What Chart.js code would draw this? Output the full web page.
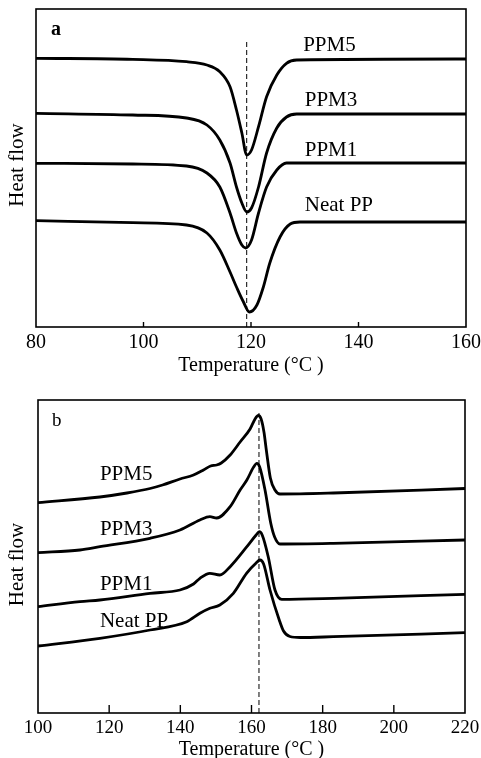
<!DOCTYPE html>
<html><head><meta charset="utf-8">
<script src="https://cdn.jsdelivr.net/npm/chart.js@4.4.1/dist/chart.umd.min.js"></script>
<style>
html,body{margin:0;padding:0;background:#fff;}
#wrap{position:relative;width:481px;height:758px;overflow:hidden;}
.c{position:absolute;left:0;width:481px;}
</style></head><body>
<div id="wrap">
<div class="c" style="top:0;height:380px"><canvas id="ca"></canvas></div>
<div class="c" style="top:380px;height:378px"><canvas id="cb"></canvas></div>
</div>
<script>
// ---------- Panel a (cooling, crystallization) ----------
const tickLabelsA = [80, 100, 120, 140, 160];
const seriesNamesA = ['PPM5', 'PPM3', 'PPM1', 'Neat PP'];
const tempA_PPM5 = [80, 98, 108, 111.8, 114.2, 116.1, 117.3, 118.3, 119.2, 120.1, 121.4, 122.9, 124.8, 126.6, 128.5, 160];
const flowA_PPM5 = [268.7, 267.7, 265.3, 262, 255.3, 240.3, 217, 194, 172, 177, 200.3, 230.3, 252, 263.7, 267, 268];
const tempA_PPM3 = [80, 98, 108, 111.8, 114.2, 116.1, 117.3, 118.3, 119.2, 120.1, 121.4, 122.9, 124.8, 126.6, 128.5, 160];
const flowA_PPM3 = [213.7, 212, 209, 202, 187, 164, 140, 124, 115, 119, 140, 174, 199, 210, 213, 213];
const tempA_PPM1 = [80, 98, 108, 111.8, 114.2, 116.1, 117.3, 118.3, 119.0, 120.1, 121.4, 122.9, 124.8, 126.6, 128.5, 160];
const flowA_PPM1 = [163.7, 163, 161, 154, 140, 114, 94, 82, 79, 87, 114, 140, 157, 164, 164, 164];
const tempA_Neat = [80, 98, 108, 111.8, 114.2, 116.1, 117.3, 118.6, 119.7, 121.1, 122.3, 123.5, 125.4, 127.3, 129.1, 160];
const flowA_Neat = [106.3, 104.3, 102, 94, 77, 55, 40, 25, 15, 22, 40, 64, 90, 103, 105, 105];
const refTempA = [119.2, 119.2];
const refFlowA = [0, 285];

// ---------- Panel b (heating, melting) ----------
const tickLabelsB = [100, 120, 140, 160, 180, 200, 220];
const seriesNamesB = ['PPM5', 'PPM3', 'PPM1', 'Neat PP'];
const tempB_PPM5 = [100, 117.4, 125, 131.5, 135, 139.9, 143.7, 146.5, 148.5, 150.2, 151.5, 154, 156.8, 159.6, 161.0, 161.9, 162.7, 163.5, 164.2, 165.3, 166.6, 168, 183, 220];
const flowB_PPM5 = [210.3, 216, 220, 224.5, 228, 234, 238, 243, 247, 248, 250, 258, 271, 284, 294, 297.5, 294, 281, 262, 235, 223, 219, 220, 224.5];
const tempB_PPM3 = [100, 111.8, 117.4, 131.5, 139.9, 145.5, 148.3, 150.2, 154, 156.8, 158.7, 160.6, 161.5, 162.3, 163.8, 165.4, 166.5, 168, 183, 220];
const flowB_PPM3 = [160.3, 163, 166.3, 174.7, 183, 193, 196.3, 195, 206.3, 223, 233, 246, 249.7, 246, 223, 190, 176, 169, 169.7, 173];
const tempB_PPM1 = [100, 111.8, 117.4, 131.5, 139.9, 143.7, 145.5, 148.3, 151.1, 154, 158.7, 161.3, 162.2, 163.0, 164.7, 166.6, 168.5, 183, 220];
const flowB_PPM1 = [106.3, 111.3, 113, 119.7, 123, 129, 134.7, 139.7, 138, 146.3, 166.3, 178, 181.3, 178, 156.3, 123, 113.7, 114.7, 118.7];
const tempB_Neat = [100, 117.4, 131.5, 141.8, 145.5, 148.3, 151.1, 154.9, 158.6, 161.3, 162.4, 163.4, 165.2, 167.8, 169, 170.8, 173.7, 183, 220];
const flowB_Neat = [67, 74.7, 83, 91.3, 99.7, 104.7, 108, 119.7, 139.7, 150, 153, 149, 123, 93, 82, 76.5, 75.5, 76.3, 80.3];
const refTempB = [162.1, 162.1];
const refFlowB = [0, 300];

const FONT = "'Liberation Serif', 'Times New Roman', serif";
const pts = (xs, ys) => xs.map((v, i) => ({x: v, y: ys[i]}));

function curve(label, xs, ys) {
  return {label, data: pts(xs, ys), borderColor: '#000', borderWidth: 2.8,
    pointRadius: 0, fill: false, cubicInterpolationMode: 'monotone'};
}
function refLine(xs, ys) {
  return {label: 'ref', data: pts(xs, ys), borderColor: '#000', borderWidth: 1,
    borderDash: [5, 3], pointRadius: 0, fill: false, tension: 0};
}

const decor = {
  id: 'decor',
  afterDatasetsDraw(chart, args, o) {
    const {ctx, chartArea: {left, right, top, bottom}, scales: {x, y}} = chart;
    ctx.save();
    ctx.strokeStyle = '#000';
    ctx.lineWidth = 1.6;
    ctx.strokeRect(left, top, right - left, bottom - top);
    ctx.lineWidth = 1.4;
    x.ticks.forEach(t => {
      if (t.value <= x.min || t.value >= x.max) return;
      const px = x.getPixelForValue(t.value);
      ctx.beginPath(); ctx.moveTo(px, bottom); ctx.lineTo(px, bottom - o.tickLen); ctx.stroke();
    });
    ctx.fillStyle = '#000';
    ctx.textBaseline = 'middle';
    ctx.textAlign = 'left';
    o.labels.forEach(l => {
      ctx.font = (l.bold ? 'bold ' : '') + l.size + 'px ' + FONT;
      ctx.fillText(l.text, x.getPixelForValue(l.x), y.getPixelForValue(l.y));
    });
    // y axis title
    ctx.save();
    ctx.translate(o.yTitleX, (top + bottom) / 2 + o.yTitleDy);
    ctx.rotate(-Math.PI / 2);
    ctx.textAlign = 'center';
    ctx.font = '21px ' + FONT;
    ctx.fillText('Heat flow', 0, 0);
    ctx.restore();
    ctx.restore();
  }
};

function makeChart(id, cfg) {
  return new Chart(document.getElementById(id), {
    type: 'line',
    data: {datasets: cfg.datasets},
    options: {
      responsive: true, maintainAspectRatio: false, animation: false,
      layout: {padding: cfg.padding},
      plugins: {legend: {display: false}, tooltip: {enabled: false},
        decor: {tickLen: cfg.tickLen, labels: cfg.labels, yTitleX: 17, yTitleDy: cfg.yTitleDy}},
      scales: {
        x: {type: 'linear', min: cfg.xMin, max: cfg.xMax,
          afterBuildTicks: s => { s.ticks = cfg.ticks.map(v => ({value: v})); },
          ticks: {font: {family: FONT, size: cfg.tickSize}, color: '#000', padding: cfg.tickPad, maxRotation: 0},
          grid: {display: false}, border: {display: false},
          title: {display: true, text: 'Temperature (°C )', color: '#000',
            font: {family: FONT, size: 20, lineHeight: cfg.titleLH}, padding: {top: 0, bottom: cfg.titlePad}},
          afterFit: s => { s.height = cfg.xHeight; }},
        y: {min: 0, max: cfg.yMax, ticks: {display: false},
          grid: {display: false}, border: {display: false},
          afterFit: s => { s.width = cfg.yWidth; }}
      }
    },
    plugins: [decor]
  });
}

makeChart('ca', {
  datasets: [curve(seriesNamesA[0], tempA_PPM5, flowA_PPM5), curve(seriesNamesA[1], tempA_PPM3, flowA_PPM3),
    curve(seriesNamesA[2], tempA_PPM1, flowA_PPM1), curve(seriesNamesA[3], tempA_Neat, flowA_Neat), refLine(refTempA, refFlowA)],
  padding: {top: 9, right: 15, left: 0, bottom: 0},
  xMin: 80, xMax: 160, ticks: tickLabelsA, yMax: 318, yWidth: 36, xHeight: 53,
  tickSize: 20, tickPad: -4, titlePad: 4, titleLH: 1, tickLen: 5, yTitleDy: -3,
  labels: [
    {text: 'a', x: 82.8, y: 297, size: 20, bold: true},
    {text: seriesNamesA[0], x: 129.7, y: 282, size: 21},
    {text: seriesNamesA[1], x: 130, y: 227, size: 21},
    {text: seriesNamesA[2], x: 130, y: 177, size: 21},
    {text: seriesNamesA[3], x: 130, y: 122, size: 21}
  ]
});

makeChart('cb', {
  datasets: [curve(seriesNamesB[0], tempB_PPM5, flowB_PPM5), curve(seriesNamesB[1], tempB_PPM3, flowB_PPM3),
    curve(seriesNamesB[2], tempB_PPM1, flowB_PPM1), curve(seriesNamesB[3], tempB_Neat, flowB_Neat), refLine(refTempB, refFlowB)],
  padding: {top: 20, right: 16, left: 0, bottom: 0},
  xMin: 100, xMax: 220, ticks: tickLabelsB, yMax: 313, yWidth: 38, xHeight: 45,
  tickSize: 19, tickPad: -4, titlePad: 0, titleLH: 0.8, tickLen: 8, yTitleDy: 8,
  labels: [
    {text: 'b', x: 103.9, y: 292, size: 19, bold: false},
    {text: seriesNamesB[0], x: 117.4, y: 239, size: 21},
    {text: seriesNamesB[1], x: 117.4, y: 184, size: 21},
    {text: seriesNamesB[2], x: 117.4, y: 129, size: 21},
    {text: seriesNamesB[3], x: 117.4, y: 92, size: 21}
  ]
});
</script>
</body></html>
